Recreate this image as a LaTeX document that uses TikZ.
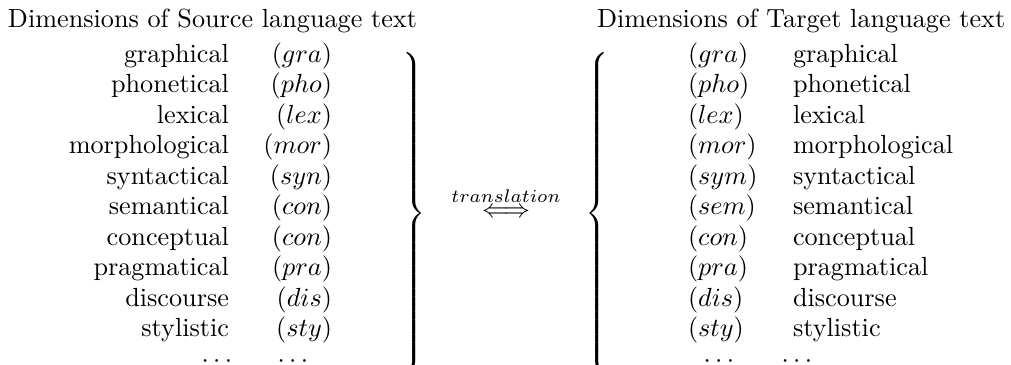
\documentclass[tikz,border=0pt]{standalone}
\usepackage{amsmath}
\usepackage{graphicx}
\begin{document}
\begin{tikzpicture}[x=0.3817pt,y=-0.3817pt,
  every node/.style={inner sep=0pt,outer sep=0pt},
  head/.style={anchor=base west},
  lword/.style={anchor=base east},
  rword/.style={anchor=base west},
  dotsnode/.style={anchor=base}]
\useasboundingbox (0,0) rectangle (1011,365);
\clip (0,0) rectangle (1011,365);
\node[head] (hl) at (8,27) {Dimensions of Source language text};
\node[head] (hr) at (597,27) {Dimensions of Target language text};
\def\gy{62}\def\sy{30.5}
\foreach \w/\a [count=\i from 0] in {graphical/gra,phonetical/pho,lexical/lex,morphological/mor,syntactical/syn,semantical/con,conceptual/con,pragmatical/pra,discourse/dis,stylistic/sty}{
  \node[lword] (lw\i) at (229,\gy+\sy*\i) {\w};
  \node[lword] (la\i) at (332,\gy+\sy*\i) {$(\a)$};
}
\foreach \w/\a [count=\i from 0] in {graphical/gra,phonetical/pho,lexical/lex,morphological/mor,syntactical/sym,semantical/sem,conceptual/con,pragmatical/pra,discourse/dis,stylistic/sty}{
  \node[rword] (ra\i) at (688,\gy+\sy*\i) {$(\a)$};
  \node[rword] (rw\i) at (793,\gy+\sy*\i) {\w};
}
\node[dotsnode] (ld1) at (219,\gy+\sy*10) {$\cdots$};
\node[dotsnode] (ld2) at (295,\gy+\sy*10) {$\cdots$};
\node[dotsnode] (rd1) at (721,\gy+\sy*10) {$\cdots$};
\node[dotsnode] (rd2) at (799,\gy+\sy*10) {$\cdots$};
\node (lb) at (413,213) {\scalebox{1}[0.975]{$\left.\vcenter{\hrule height 126pt width 0pt}\right\}$}};
\node (rb) at (599,213) {\scalebox{1}[0.975]{$\left\{\vcenter{\hrule height 126pt width 0pt}\right.$}};
\node[anchor=base] (tr) at (506,217.5) {$\stackrel{translation}{\Longleftrightarrow}$};
\end{tikzpicture}
\end{document}
